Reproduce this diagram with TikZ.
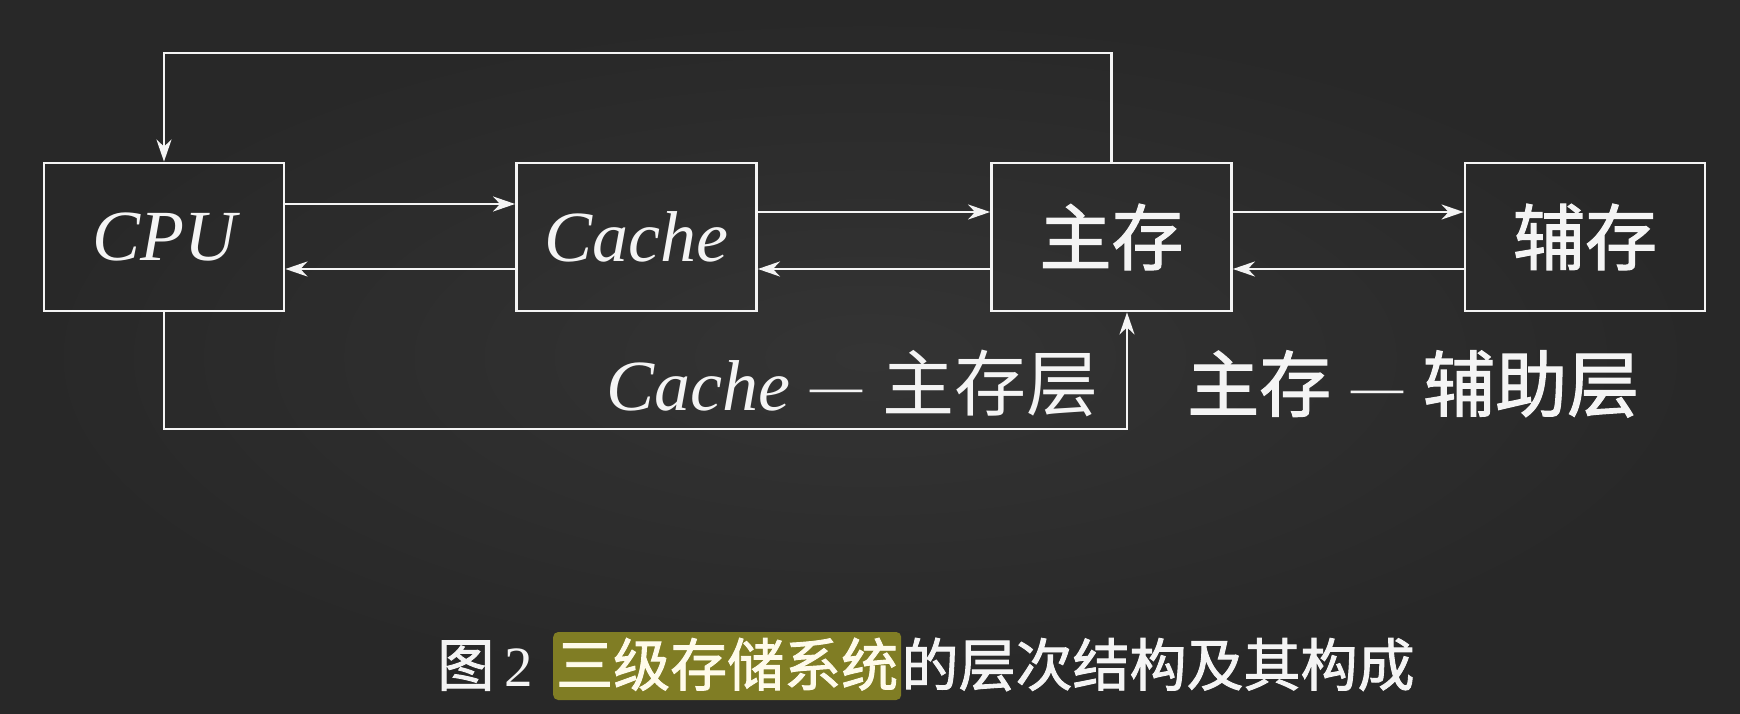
\documentclass[tikz,border=0pt]{standalone}
\usepackage{fontspec}
\setmainfont{Liberation Serif}
\newfontfamily\cjk{Noto Sans CJK SC}
\newfontfamily\cjkm{Noto Sans CJK SC}[FakeBold=1.6]
\usetikzlibrary{arrows.meta}
\definecolor{board}{HTML}{2D2D2D}
\definecolor{boardlight}{HTML}{343434}
\definecolor{chalk}{HTML}{F4F4F4}
\definecolor{hlcol}{HTML}{807D24}
\definecolor{cream}{HTML}{FFFBEA}
\newcommand\chalkdash{{\fontsize{52pt}{52pt}\selectfont\raisebox{7pt}{—}}}
\begin{document}
\begin{tikzpicture}[x=1pt,y=-1pt,
  box/.style={draw=chalk, line width=2.8pt, minimum width=240pt, minimum height=148pt, inner sep=0pt, text=chalk},
  latinbox/.style={box, font=\fontsize{72pt}{72pt}\selectfont\itshape},
  cjkbox/.style={box, font=\fontsize{72pt}{72pt}\selectfont\cjkm},
  arr/.style={draw=chalk, line width=2.6pt, -{Stealth[length=22pt,width=15pt,inset=7pt]}},
  lab/.style={anchor=base west, inner sep=0pt, text=chalk, font=\fontsize{72pt}{72pt}\selectfont},
  captext/.style={inner sep=0pt, text=chalk, font=\fontsize{57pt}{57pt}\selectfont\cjkm},
  ]
\useasboundingbox (0,0) rectangle (1740,714);
\fill[board] (0,0) rectangle (1740,714);
\shade[inner color=boardlight, outer color=board!88!black] (0,0) rectangle (1740,714);

% boxes
\node[latinbox] (cpu)   at (164,237)    {CPU};
\node[latinbox] (cache) at (636.5,237)  {Cache};
\node[cjkbox]   (main)  at (1111.5,237) {\raisebox{2pt}{主存}};
\node[cjkbox]   (aux)   at (1585,237)   {\raisebox{2pt}{辅存}};

% horizontal connectors
\draw[arr] ([yshift=33pt]cpu.east) -- ([yshift=33pt]cache.west);
\draw[arr] ([yshift=-32pt]cache.west) -- ([yshift=-32pt]cpu.east);
\draw[arr] ([yshift=25pt]cache.east) -- ([yshift=25pt]main.west);
\draw[arr] ([yshift=-32pt]main.west) -- ([yshift=-32pt]cache.east);
\draw[arr] ([yshift=25pt]main.east) -- ([yshift=25pt]aux.west);
\draw[arr] ([yshift=-32pt]aux.west) -- ([yshift=-32pt]main.east);

% loops
\coordinate (top) at (0,53);
\draw[arr] (main.north) -- (main.north |- top) -| (cpu.north);
\coordinate (bot) at (1127,429);
\draw[arr] (cpu.south) |- (bot) -- (bot |- main.south);

% layer labels
\node[lab] (lab1) at (606,410) {\textit{Cache}\hspace{20pt}\chalkdash\hspace{20pt}{\cjk 主存层}};
\node[lab] (lab2) at (1187,411) {{\cjkm 主存}\hspace{20pt}\chalkdash\hspace{20pt}{\cjkm 辅助层}};

% caption
\node[captext, anchor=base west, fill=hlcol, rounded corners=5pt, inner xsep=3pt, inner ysep=3pt,
      text height=51pt, text depth=11pt, text=cream] (hl) at (553,686) {三级存储系统};
\node[captext, anchor=base east] (fig) at (hl.base west) {图\kern10pt{\rmfamily 2}\kern20pt\null};
\node[captext, anchor=base west] (rest) at (hl.base east) {的层次结构及其构成};
\end{tikzpicture}
\end{document}
